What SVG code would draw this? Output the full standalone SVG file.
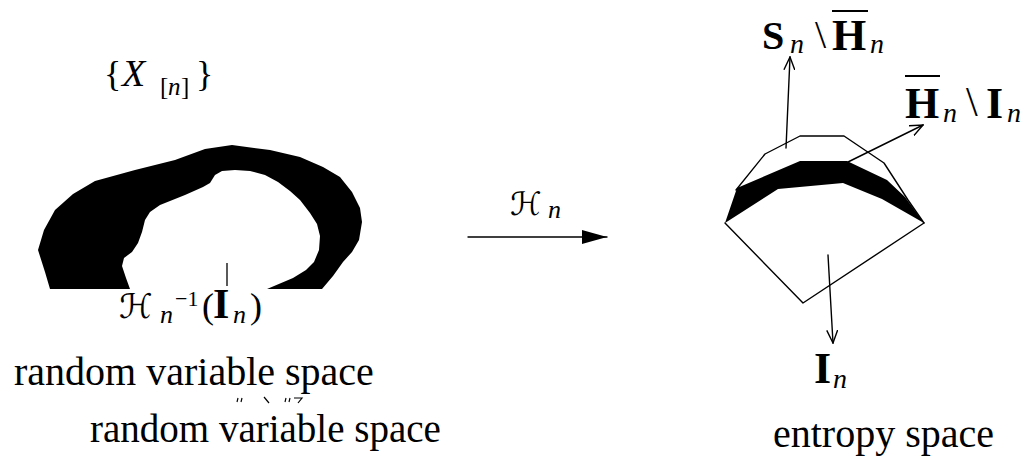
<svg xmlns="http://www.w3.org/2000/svg" width="1026" height="461" viewBox="0 0 1026 461">
<style>
.ln{stroke:#000;stroke-width:1.4;fill:none;stroke-linecap:round;stroke-linejoin:round}
</style>
<defs>
<marker id="open" markerWidth="14" markerHeight="12" refX="13" refY="6" orient="auto" markerUnits="userSpaceOnUse">
<path d="M0,0.5 L13,6 L0,11.5" fill="none" stroke="#000" stroke-width="1.4"/>
</marker>
<marker id="fill" markerWidth="26" markerHeight="16" refX="25" refY="8" orient="auto" markerUnits="userSpaceOnUse">
<path d="M0,1 L25,8 L0,15 Z" fill="#000"/>
</marker>
</defs>
<rect width="1026" height="461" fill="#fff"/>

<g id="random-variable-space">
<path d="M50,289 L45,272 L38,250 L44,230 L55,210 L73,194 L95,181 L135,170 L175,160 L205,149 L232,145 L270,150 L300,157 L323,167 L340,177 L352,192 L360,208 L362,222 L359,240 L352,252 L343,262 L333,276 L322,289 L267,289 L293,278 L306,270 L314,262 L319,250 L320,236 L317,224 L310,213 L300,200 L290,191 L278,182 L265,175 L250,171 L235,170 L222,171 L215,175 L210,183 L203,187 L185,195 L160,205 L150,212 L145,220 L142,232 L138,243 L132,252 L124,258 L122,266 L126,278 L130,289 Z" fill="#000"/>
<line x1="227" y1="263" x2="227" y2="286" stroke="#000" stroke-width="1.3"/>
<text font-family="Liberation Serif" font-size="40" x="14" y="385">random variable space</text>
<text font-family="Liberation Serif" font-size="39" x="90" y="442">random variable space</text>
<text font-family="Liberation Serif" font-size="36" x="104" y="86">{</text>
<text font-family="Liberation Serif" font-style="italic" font-size="38" x="122" y="86">X</text>
<text font-family="Liberation Serif" font-size="25" x="160" y="95">[</text>
<text font-family="Liberation Serif" font-style="italic" font-size="25" x="168" y="95">n</text>
<text font-family="Liberation Serif" font-size="25" x="181" y="95">]</text>
<text font-family="Liberation Serif" font-size="36" x="196" y="86">}</text>
<text font-family="DejaVu Sans" font-size="34" x="119" y="318">ℋ</text>
<text font-family="Liberation Serif" font-style="italic" font-size="26" x="160" y="323">n</text>
<text font-family="Liberation Serif" font-size="22" x="175" y="306">−1</text>
<text font-family="Liberation Serif" font-size="36" x="202" y="318">(</text>
<text font-family="Liberation Serif" font-weight="bold" font-size="42" x="213" y="318">I</text>
<text font-family="Liberation Serif" font-style="italic" font-size="26" x="233" y="323">n</text>
<text font-family="Liberation Serif" font-size="36" x="250" y="318">)</text>
<g stroke="#000" stroke-width="1.2" fill="none">
<line x1="238" y1="398" x2="237" y2="402"/><line x1="242" y1="398" x2="241" y2="402"/>
<line x1="264" y1="397" x2="269" y2="403"/>
<line x1="286" y1="398" x2="285" y2="402"/><line x1="290" y1="398" x2="289" y2="402"/>
<path d="M294,398 L302,398 L298,403"/>
</g>
</g>

<g id="mapping">
<text font-family="DejaVu Sans" font-size="32" x="510" y="215">ℋ</text>
<text font-family="Liberation Serif" font-style="italic" font-size="26" x="548" y="218">n</text>
</g>

<g id="entropy-space">
<path d="M725,223 L737,188 L800,161 L847,161 L887,180 L905,197 L924,223 L882,199 L843,183 L778,189 Z" fill="#000"/>
<polyline class="ln" points="736,190 765,154 800,136 844,136 884,163 908,200 924,223"/>
<polyline class="ln" points="725,223 803,303 924,223"/>
<text font-family="Liberation Serif" font-weight="bold" font-size="40" x="762" y="49">S</text>
<text font-family="Liberation Serif" font-style="italic" font-size="28" x="790" y="53">n</text>
<text font-family="Liberation Serif" font-size="40" x="815" y="48">\</text>
<line x1="832" y1="11" x2="868" y2="11" stroke="#000" stroke-width="2"/>
<text font-family="Liberation Serif" font-weight="bold" font-size="44" x="832" y="50">H</text>
<text font-family="Liberation Serif" font-style="italic" font-size="28" x="870" y="53">n</text>
<line x1="905" y1="76" x2="940" y2="76" stroke="#000" stroke-width="2"/>
<text font-family="Liberation Serif" font-weight="bold" font-size="44" x="905" y="118">H</text>
<text font-family="Liberation Serif" font-style="italic" font-size="28" x="943" y="122">n</text>
<text font-family="Liberation Serif" font-size="42" x="966" y="116">\</text>
<text font-family="Liberation Serif" font-weight="bold" font-size="44" x="986" y="118">I</text>
<text font-family="Liberation Serif" font-style="italic" font-size="28" x="1007" y="122">n</text>
<text font-family="Liberation Serif" font-weight="bold" font-size="44" x="814" y="383">I</text>
<text font-family="Liberation Serif" font-style="italic" font-size="28" x="833" y="388">n</text>
<text font-family="Liberation Serif" font-size="40" x="773" y="447">entropy space</text>
</g>

<g id="connectors">
<line class="ln" x1="468" y1="237" x2="607" y2="237" marker-end="url(#fill)"/>
<line class="ln" x1="786" y1="148" x2="790" y2="57" marker-end="url(#open)"/>
<line class="ln" x1="848" y1="162" x2="923" y2="125" marker-end="url(#open)"/>
<line class="ln" x1="828" y1="255" x2="833" y2="343" marker-end="url(#open)"/>
</g>
</svg>
